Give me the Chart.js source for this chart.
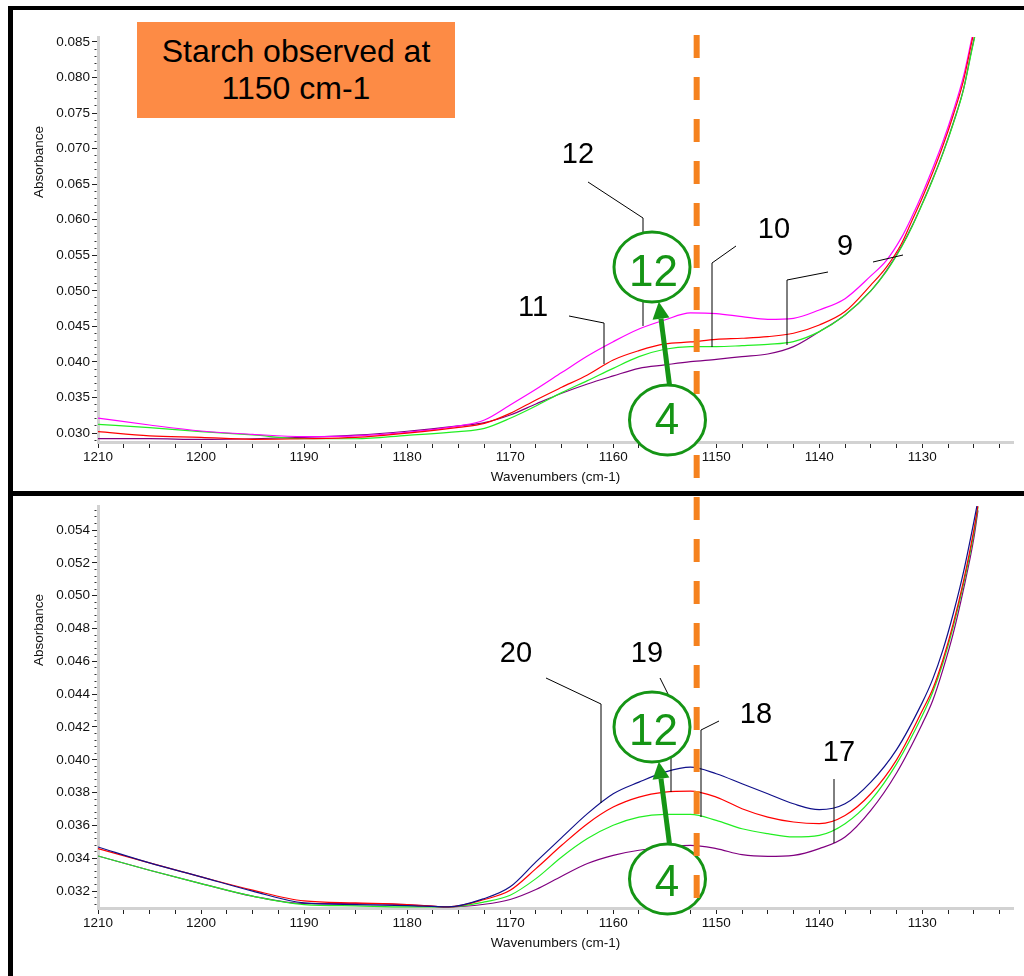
<!DOCTYPE html>
<html>
<head>
<meta charset="utf-8">
<title>Starch observed at 1150 cm-1</title>
<script src="https://cdn.jsdelivr.net/npm/chart.js@4.4.1/dist/chart.umd.min.js"></script>
<style>
  html, body { margin: 0; padding: 0; background: #fff; }
  body { width: 1024px; height: 976px; position: relative; overflow: hidden; font-family: 'Liberation Sans', Arial, sans-serif; }
  .frame { position: absolute; left: 8px; top: 6px; width: 1016px; height: 970px; border-left: 5px solid #000; border-top: 4px solid #000; box-sizing: border-box; }
  .divider { position: absolute; left: 8px; top: 491px; width: 1016px; height: 5px; background: #000; }
  canvas { position: absolute; left: 13px; }
  #topChart { top: 10px; }
  #bottomChart { top: 496px; }
  .ytitle { position: absolute; font-size: 13.5px; color: #111; white-space: nowrap; transform: translate(-50%, -50%) rotate(-90deg); }
  .banner { position: absolute; left: 137px; top: 22px; width: 318px; height: 96px; background: #fd8b45; color: #000;
            font-size: 32px; line-height: 37px; text-align: center; display: flex; flex-direction: column; justify-content: center; }
  svg.overlay { position: absolute; left: 0; top: 0; }
</style>
</head>
<body>
<div class="frame"></div>
<div class="divider"></div>
<canvas id="topChart" width="1011" height="481"></canvas>
<canvas id="bottomChart" width="1011" height="480"></canvas>
<div class="ytitle" style="left:38px; top:162px;">Absorbance</div>
<div class="ytitle" style="left:38px; top:630px;">Absorbance</div>
<div class="banner"><div>Starch observed at</div><div>1150 cm-1</div></div>
<svg class="overlay" id="notes" width="1024" height="976"></svg>

<script>
// ==========================================
// Data - spectra
// ==========================================

const X_TITLE = 'Wavenumbers (cm-1)';
const MARKER_WN = 1151.9; // starch band marker

// top panel (samples 9-12)
const TOP_WN = [1210, 1205, 1200, 1195, 1190, 1185, 1180, 1175, 1172.5, 1170, 1167.5, 1165, 1162.5, 1160, 1157.5, 1155, 1152.5,
  1150, 1147.5, 1145, 1142.5, 1140, 1137.5, 1135, 1133.5, 1132, 1131, 1130, 1129, 1128, 1127, 1126, 1125.2, 1124.9];
const TOP_S12 = [0.0321, 0.03113, 0.03029, 0.02982, 0.0295, 0.0296, 0.0301, 0.0310, 0.03184, 0.03395, 0.03615, 0.0385, 0.04084, 0.04285, 0.04463, 0.0459, 0.0469,
  0.0468, 0.04637, 0.046, 0.04614, 0.04731, 0.0489, 0.0521, 0.05425, 0.05756, 0.06045, 0.06366, 0.0672, 0.07096, 0.07525, 0.0802, 0.0855, 0.0875];
const TOP_S11 = [0.0302, 0.0296, 0.0294, 0.02912, 0.0292, 0.0294, 0.0300, 0.0308, 0.03137, 0.03277, 0.03465, 0.03643, 0.03817, 0.04028, 0.04159, 0.04253, 0.04281,
  0.04318, 0.04333, 0.04356, 0.04403, 0.0452, 0.04708, 0.0508, 0.0533, 0.0567, 0.0599, 0.0631, 0.0666, 0.0704, 0.0747, 0.0796, 0.0850, 0.0870];
const TOP_S10 = [0.03123, 0.03076, 0.0302, 0.02973, 0.0292, 0.0292, 0.02968, 0.0302, 0.03066, 0.03207, 0.0338, 0.03568, 0.03737, 0.0391, 0.04074, 0.04178, 0.04215,
  0.04215, 0.04229, 0.04248, 0.04286, 0.04426, 0.04661, 0.0500, 0.0527, 0.0562, 0.0590, 0.0622, 0.0656, 0.0693, 0.0735, 0.0783, 0.0838, 0.0858];
const TOP_S9 = [0.02921, 0.02921, 0.0291, 0.0292, 0.0294, 0.0297, 0.03025, 0.0310, 0.03146, 0.03254, 0.03409, 0.03559, 0.0369, 0.03803, 0.0391, 0.03958, 0.04004,
  0.04037, 0.04075, 0.04112, 0.04215, 0.04426, 0.04661, 0.0500, 0.0528, 0.0563, 0.0591, 0.0623, 0.0657, 0.0694, 0.0736, 0.0784, 0.0840, 0.0860];

// bottom panel (samples 17-20)
const BOT_WN = [1210, 1205, 1200, 1195, 1190, 1185, 1180, 1176, 1172.5, 1170, 1167.5, 1165, 1162.5, 1160, 1157.5, 1155,
  1152.5, 1150, 1147.5, 1145, 1142.5, 1140, 1137.5, 1135, 1132.5, 1130, 1129, 1128, 1127, 1126, 1125, 1124.6];
const BOT_S20 = [0.03469, 0.03372, 0.03287, 0.0320, 0.03128, 0.03118, 0.03112, 0.03104, 0.03155, 0.03226, 0.03378, 0.03526, 0.03672, 0.03793, 0.03864, 0.03925,
  0.03955, 0.03915, 0.03854, 0.03793, 0.03732, 0.03696, 0.03732, 0.03864, 0.04062, 0.0435, 0.0449, 0.0467, 0.0489, 0.05145, 0.0545, 0.0558];
const BOT_S19 = [0.03459, 0.03372, 0.03287, 0.03206, 0.0314, 0.03128, 0.03118, 0.03104, 0.03149, 0.03205, 0.03337, 0.03479, 0.03611, 0.03712, 0.03773, 0.03803,
  0.03809, 0.03773, 0.03702, 0.03651, 0.03621, 0.03611, 0.03661, 0.03793, 0.0400, 0.0430, 0.0443, 0.0461, 0.0483, 0.0509, 0.0540, 0.0555];
const BOT_S18 = [0.03414, 0.03327, 0.03246, 0.03169, 0.03118, 0.0311, 0.03104, 0.03104, 0.03134, 0.03175, 0.03276, 0.03408, 0.0352, 0.03601, 0.03651, 0.03667,
  0.03667, 0.03631, 0.0358, 0.0355, 0.0353, 0.0354, 0.03611, 0.03753, 0.03975, 0.0427, 0.0441, 0.0459, 0.0481, 0.0507, 0.0538, 0.0554];
const BOT_S17 = [0.03414, 0.03327, 0.03246, 0.03169, 0.03124, 0.03124, 0.03118, 0.03104, 0.0312, 0.03149, 0.0321, 0.03291, 0.03368, 0.03418, 0.03449, 0.03465,
  0.03479, 0.03459, 0.03422, 0.03412, 0.03418, 0.03459, 0.0353, 0.03692, 0.0392, 0.0422, 0.0436, 0.0455, 0.0477, 0.0504, 0.0535, 0.0552];

// ==========================================
// Chart helpers
// ==========================================

const FONT = "'Liberation Sans', Arial, sans-serif";

function isMultiple(v, m) {
  return Math.abs(v / m - Math.round(v / m)) < 1e-6;
}

function toPoints(xs, ys) {
  return xs.map((x, i) => ({ x, y: ys[i] }));
}

function line(label, xs, ys, color) {
  return {
    label,
    data: toPoints(xs, ys),
    borderColor: color,
    borderWidth: 1.2,
    pointRadius: 0,
    fill: false,
    cubicInterpolationMode: 'monotone'
  };
}

function buildChart(id, datasets, opts) {
  const isMajorY = v => isMultiple(v, opts.yLabelStep);
  return new Chart(document.getElementById(id), {
    type: 'line',
    data: { datasets },
    options: {
      responsive: false,
      animation: false,
      layout: { padding: { top: opts.padTop, right: 11, bottom: 0, left: 0 } },
      plugins: { legend: { display: false }, tooltip: { enabled: false } },
      scales: {
        x: {
          type: 'linear',
          reverse: true,
          min: 1121.2,
          max: 1210,
          afterFit: s => { s.height = opts.xHeight; },
          border: { color: '#d2d2d2', width: 3 },
          grid: { drawOnChartArea: false, tickLength: 6, tickColor: '#222' },
          ticks: {
            stepSize: 2.5,
            autoSkip: false,
            includeBounds: false,
            maxRotation: 0,
            padding: 1,
            color: '#111',
            font: { family: FONT, size: 13.5 },
            callback: v => isMultiple(v, 10) ? String(Math.round(v)) : ''
          },
          title: {
            display: true,
            text: X_TITLE,
            color: '#111',
            font: { family: FONT, size: 13.5 },
            padding: { top: 0, bottom: opts.xTitlePad }
          }
        },
        y: {
          type: 'linear',
          min: opts.yMin,
          max: opts.yMax,
          afterFit: s => { s.width = 85; },
          border: { color: '#d2d2d2', width: 3 },
          grid: {
            drawOnChartArea: false,
            tickLength: 6,
            tickColor: ctx => isMajorY(ctx.tick.value) ? '#222' : '#333',
            tickBorderDash: ctx => isMajorY(ctx.tick.value) ? [] : [2, 10],
            tickBorderDashOffset: ctx => isMajorY(ctx.tick.value) ? 0 : 9.5
          },
          ticks: {
            stepSize: opts.yStep,
            autoSkip: false,
            includeBounds: false,
            padding: 2,
            color: '#111',
            font: { family: FONT, size: 13.5 },
            callback: v => isMajorY(v) ? v.toFixed(3) : ''
          }
        }
      }
    }
  });
}

// ==========================================
// Annotations (svg overlay)
// ==========================================

const SVG_NS = 'http://www.w3.org/2000/svg';
const GREEN = '#159515';

function add(tag, attrs, text) {
  const el = document.createElementNS(SVG_NS, tag);
  Object.entries(attrs).forEach(([k, v]) => el.setAttribute(k, v));
  if (text) el.textContent = text;
  document.getElementById('notes').appendChild(el);
  return el;
}

function leader(points) {
  add('polyline', { points: points.map(p => p.join(',')).join(' '), fill: 'none', stroke: '#000', 'stroke-width': 1 });
}

function label(text, x, y) {
  add('text', { x, y, 'text-anchor': 'middle', 'font-family': FONT, 'font-size': 29, fill: '#000' }, text);
}

function bubble(text, cx, cy, tx, ty) {
  add('ellipse', { cx, cy, rx: 38, ry: 35, fill: '#fff', stroke: GREEN, 'stroke-width': 3 });
  add('text', { x: tx, y: ty, 'text-anchor': 'middle', 'font-family': FONT, 'font-size': 44, fill: GREEN }, text);
}

function arrow(tail, tip) {
  const dx = tail[0] - tip[0], dy = tail[1] - tip[1];
  const len = Math.hypot(dx, dy);
  const ux = dx / len, uy = dy / len;
  const bx = tip[0] + ux * 17, by = tip[1] + uy * 17;
  add('line', { x1: tail[0], y1: tail[1], x2: bx, y2: by, stroke: GREEN, 'stroke-width': 5 });
  add('polygon', {
    points: [tip, [bx + uy * 8.5, by - ux * 8.5], [bx - uy * 8.5, by + ux * 8.5]].map(p => p.join(',')).join(' '),
    fill: GREEN
  });
}

function drawNotes(markerX) {
  // leader lines
  leader([[588, 182], [643, 218], [643, 326]]);
  leader([[569, 316], [604, 323], [604, 364]]);
  leader([[736, 246], [712, 263], [712, 347]]);
  leader([[828, 272], [787, 280], [787, 345]]);
  leader([[873, 262], [903, 255]]);
  leader([[546, 678], [601, 704], [601, 803]]);
  leader([[660, 678], [671, 700], [671, 792]]);
  leader([[719, 721], [701, 730], [701, 817]]);
  leader([[834, 779], [834, 843]]);

  // bottom panel bubbles sit under the marker line
  bubble('12', 652, 727, 653.5, 745);
  bubble('4', 667.5, 879, 667, 896);
  arrow([669.5, 844], [658.8, 761.7]);

  add('line', { x1: markerX, y1: 35, x2: markerX, y2: 898, stroke: '#f5821f', 'stroke-width': 6, 'stroke-dasharray': '23 19' });

  bubble('12', 652, 267, 653.5, 286);
  bubble('4', 667.5, 420, 667, 434);
  arrow([669.5, 385], [658.8, 301.7]);

  label('12', 578, 162.5);
  label('11', 533, 315.5);
  label('10', 774, 237.5);
  label('9', 845, 254.5);
  label('20', 516, 661.5);
  label('19', 647, 661.5);
  label('18', 756, 722.5);
  label('17', 839, 760.5);
}

// ==========================================
// Initialize
// ==========================================

const topChart = buildChart('topChart', [
  line('11', TOP_WN, TOP_S11, '#ff0000'),
  line('12', TOP_WN, TOP_S12, '#ff00ff'),
  line('10', TOP_WN, TOP_S10, '#22ee22'),
  line('9', TOP_WN, TOP_S9, '#800080')
], { padTop: 27, xHeight: 49, xTitlePad: 6, yMin: 0.02874, yMax: 0.0857, yStep: 0.001, yLabelStep: 0.005 });

const bottomChart = buildChart('bottomChart', [
  line('20', BOT_WN, BOT_S20, '#10108a'),
  line('19', BOT_WN, BOT_S19, '#ff0000'),
  line('18', BOT_WN, BOT_S18, '#22ee22'),
  line('17', BOT_WN, BOT_S17, '#800080')
], { padTop: 9, xHeight: 68, xTitlePad: 25, yMin: 0.03097, yMax: 0.05546, yStep: 0.0004, yLabelStep: 0.002 });

const topCanvas = document.getElementById('topChart');
drawNotes(topCanvas.offsetLeft + topChart.scales.x.getPixelForValue(MARKER_WN));
</script>
</body>
</html>
